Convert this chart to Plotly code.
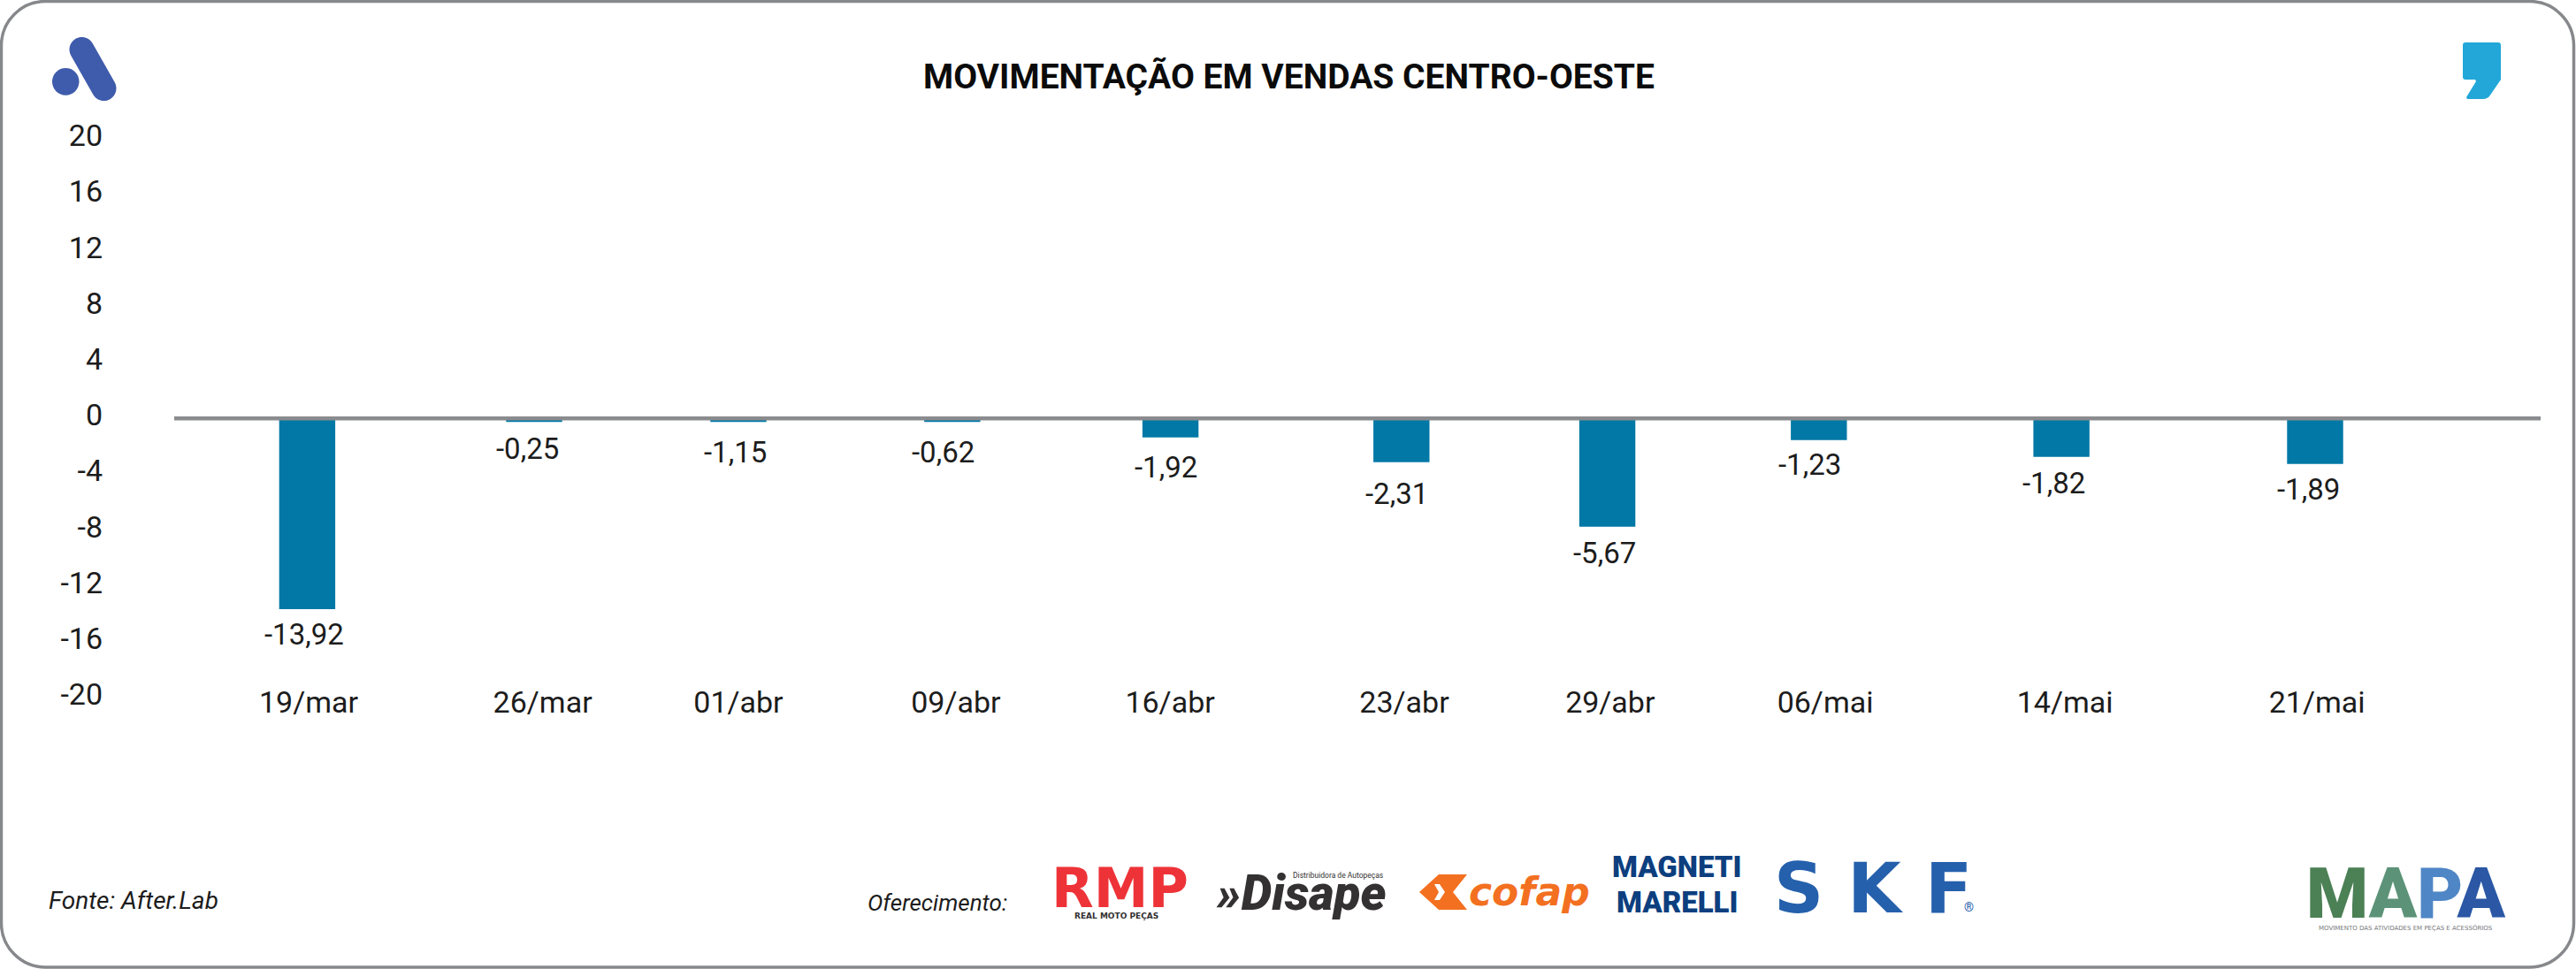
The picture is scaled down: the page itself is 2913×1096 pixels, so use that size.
import plotly.graph_objects as go

# ---------- data ----------
categories = ["19/mar", "26/mar", "01/abr", "09/abr", "16/abr", "23/abr", "29/abr", "06/mai", "14/mai", "21/mai"]
# bar heights as drawn in the picture (they differ from the printed labels)
bar_values = [-13.65, -0.25, -0.25, -0.25, -1.35, -3.13, -7.75, -1.54, -2.75, -3.25]
value_labels = ["-13,92", "-0,25", "-1,15", "-0,62", "-1,92", "-2,31", "-5,67", "-1,23", "-1,82", "-1,89"]
# horizontal place of each bar / tick on the chart's axis
bar_x = [5.62, 15.21, 23.84, 32.88, 42.10, 51.86, 60.56, 69.50, 79.75, 90.47]
tick_x = [5.68, 15.57, 23.84, 33.03, 42.08, 51.98, 60.68, 69.77, 79.90, 90.55]
y_ticks = [20, 16, 12, 8, 4, 0, -4, -8, -12, -16, -20]
y_tick_text = ["20", "16", "12", "8", "4", "0", "-4", "-8", "-12", "-16", "-20"]

title = "MOVIMENTAÇÃO EM VENDAS CENTRO-OESTE"
source = "Fonte: After.Lab"
sponsor = "Oferecimento:"

# ---------- layout constants ----------
W, H = 2913, 1096
FONT = "Roboto"
BLACK = "#0b0b0b"
SOFT = "#1c1c1c"
label_dx = [-3.5, -8, -3, -10, -5.5, -5.7, -3.5, -10.7, -9, -7]
label_dy = [-29, -30.7, -34.7, -34.7, -34.3, -35.3, -30, -28, -30, -29]


def px(x):
    return x / W


def py(y):
    return 1 - y / H


def path(cmds):
    out = []
    for c in cmds:
        if c == "Z":
            out.append("Z")
        else:
            op, *pts = c
            out.append(op + " ".join(f"{px(pts[i]):.5f},{py(pts[i + 1]):.5f}" for i in range(0, len(pts), 2)))
    return " ".join(out)


def round_rect(x0, y0, x1, y1, r):
    k = 0.5523 * r
    return path([
        ("M", x0 + r, y0), ("L", x1 - r, y0), ("C", x1 - r + k, y0, x1, y0 + r - k, x1, y0 + r),
        ("L", x1, y1 - r), ("C", x1, y1 - r + k, x1 - r + k, y1, x1 - r, y1),
        ("L", x0 + r, y1), ("C", x0 + r - k, y1, x0, y1 - r + k, x0, y1 - r),
        ("L", x0, y0 + r), ("C", x0, y0 + r - k, x0 + r - k, y0, x0 + r, y0), "Z",
    ])


def capsule(x0, y0, x1, y1, w):
    dx, dy = x1 - x0, y1 - y0
    n = (dx * dx + dy * dy) ** 0.5
    ux, uy = dx / n, dy / n
    nx, ny = -uy * w / 2, ux * w / 2
    c = 0.5523
    ex, ey = ux * w / 2, uy * w / 2
    return path([
        ("M", x0 + nx, y0 + ny), ("L", x1 + nx, y1 + ny),
        ("C", x1 + nx + c * ex, y1 + ny + c * ey, x1 + ex + c * nx, y1 + ey + c * ny, x1 + ex, y1 + ey),
        ("C", x1 + ex - c * nx, y1 + ey - c * ny, x1 - nx + c * ex, y1 - ny + c * ey, x1 - nx, y1 - ny),
        ("L", x0 - nx, y0 - ny),
        ("C", x0 - nx - c * ex, y0 - ny - c * ey, x0 - ex - c * nx, y0 - ey - c * ny, x0 - ex, y0 - ey),
        ("C", x0 - ex + c * nx, y0 - ey + c * ny, x0 + nx - c * ex, y0 + ny - c * ey, x0 + nx, y0 + ny), "Z",
    ])


def poly(pts):
    return path([("M", *pts[0])] + [("L", *p) for p in pts[1:]] + ["Z"])


def shape_fill(d, color):
    return dict(type="path", xref="paper", yref="paper", path=d, fillcolor=color, line=dict(width=0), layer="above")


def text(x, y, s, size, color=BLACK, family=FONT, weight=None, style=None, xanchor="center"):
    f = dict(family=family, size=size, color=color)
    if weight:
        f["weight"] = weight
    if style:
        f["style"] = style
    return dict(x=px(x), y=py(y), xref="paper", yref="paper", text=s, showarrow=False, font=f,
                xanchor=xanchor, yanchor="middle", borderpad=0, align="center")


fig = go.Figure(go.Bar(x=bar_x, y=bar_values, width=2.37, marker=dict(color="#0178A6", line=dict(width=0)),
                       hoverinfo="skip"))

annotations = [
    dict(x=x, y=v, xref="x", yref="y", text=t, showarrow=False, xshift=dx, yshift=dy, xanchor="center",
         yanchor="middle", font=dict(family=FONT, size=33, color=SOFT, weight=400))
    for x, v, t, dx, dy in zip(bar_x, bar_values, value_labels, label_dx, label_dy)
]
annotations += [
    text(1457.5, 87, title, 39, weight=700),
    text(54, 1018, source, 28, color=SOFT, style="italic", weight=400, xanchor="left"),
    text(980, 1021, sponsor, 26, color=SOFT, style="italic", weight=400, xanchor="left"),
    # sponsor marks
    text(1266, 1004, "RMP", 62, color="#EE3338", family="DejaVu Sans", weight=700),
    text(1262, 1036, "REAL MOTO PEÇAS", 9, color="#333132", family="DejaVu Sans", weight=700),
    text(1471, 1010, "»Disape", 55, color="#333132", family=FONT, weight=900, style="italic"),
    text(1513, 989.5, "Distribuidora de Autopeças", 8.5, color="#333132"),
    text(1729, 1008, "cofap", 44, color="#F37021", family="DejaVu Sans", weight=700, style="italic"),
    text(1896, 980, "MAGNETI", 33, color="#0D3F7F", family=FONT, weight=900),
    text(1896, 1020, "MARELLI", 33, color="#0D3F7F", family=FONT, weight=900),
    text(2118, 1005, "S K F", 78, color="#2560AC", family="DejaVu Sans", weight=700),
    text(2226, 1026, "®", 14, color="#2560AC"),
    text(2720, 1011,
         '<span style="color:#4C8055">M</span><span style="color:#5C9378">A</span>'
         '<span style="color:#4F86C6">P</span><span style="color:#2B57A5">A</span>',
         80, family=FONT, weight=900),
    text(2720, 1049, "MOVIMENTO DAS ATIVIDADES EM PEÇAS E ACESSÓRIOS", 7, color="#77787B", family="DejaVu Sans"),
]

shapes = [
    dict(type="path", xref="paper", yref="paper", path=round_rect(1.5, 1.5, 2910.5, 1094, 50),
         line=dict(color="#87888C", width=3.5), fillcolor="rgba(0,0,0,0)", layer="below"),
    dict(type="line", xref="x", yref="y", x0=0, x1=100, y0=0, y1=0, line=dict(color="#8A8B8E", width=4.5),
         layer="above"),
    # "A" mark
    shape_fill(capsule(92.5, 56, 117.5, 100, 28), "#3F5BAB"),
    dict(type="circle", xref="paper", yref="paper", x0=px(59), x1=px(89.5), y0=py(107.7), y1=py(77),
         fillcolor="#3F5BAB", line=dict(width=0), layer="above"),
    # quote mark
    shape_fill(path([("M", 2788, 48), ("L", 2825, 48), ("C", 2827, 48, 2828, 49, 2828, 51), ("L", 2828, 90),
                     ("L", 2815, 109), ("C", 2813, 111, 2811, 112, 2808, 112), ("L", 2790, 112), ("L", 2789, 110),
                     ("L", 2800, 92), ("L", 2799, 90), ("L", 2788, 90), ("C", 2786, 90, 2785, 89, 2785, 87),
                     ("L", 2785, 51), ("C", 2785, 49, 2786, 48, 2788, 48), "Z"]), "#22A7D8"),
    # cofap chevrons
    shape_fill(poly([(1627, 989), (1659, 989), (1643, 1009), (1659, 1029), (1627, 1029), (1605, 1009)]), "#F37021"),
    dict(type="path", xref="paper", yref="paper", path=poly([(1622, 1000), (1628, 1000), (1634, 1009), (1628, 1018), (1622, 1018), (1627, 1009)]),
         fillcolor="#FFFFFF", line=dict(width=0), layer="above"),
]

fig.update_layout(
    width=W, height=H, autosize=False, showlegend=False,
    margin=dict(l=0, r=0, t=0, b=0),
    paper_bgcolor="#FFFFFF", plot_bgcolor="rgba(0,0,0,0)",
    annotations=annotations, shapes=shapes,
    xaxis=dict(domain=[px(197), px(2873)], range=[0, 100], anchor="free", position=py(770.5),
               tickmode="array", tickvals=tick_x, ticktext=categories, ticks="", showgrid=False,
               zeroline=False, showline=False,
               tickfont=dict(family=FONT, size=34, color=SOFT, weight=400), automargin=False),
    yaxis=dict(domain=[py(789.3), py(157.3)], range=[-20, 20], anchor="free", position=px(116),
               tickmode="array", tickvals=y_ticks, ticktext=y_tick_text, ticks="", showgrid=False,
               zeroline=False, showline=False, ticklabelshift=-4,
               tickfont=dict(family=FONT, size=34, color=SOFT, weight=400), automargin=False),
)

fig.write_html("out.html", config={"displayModeBar": False},
               post_script="document.body.style.margin='0';document.body.style.overflow='hidden';")
